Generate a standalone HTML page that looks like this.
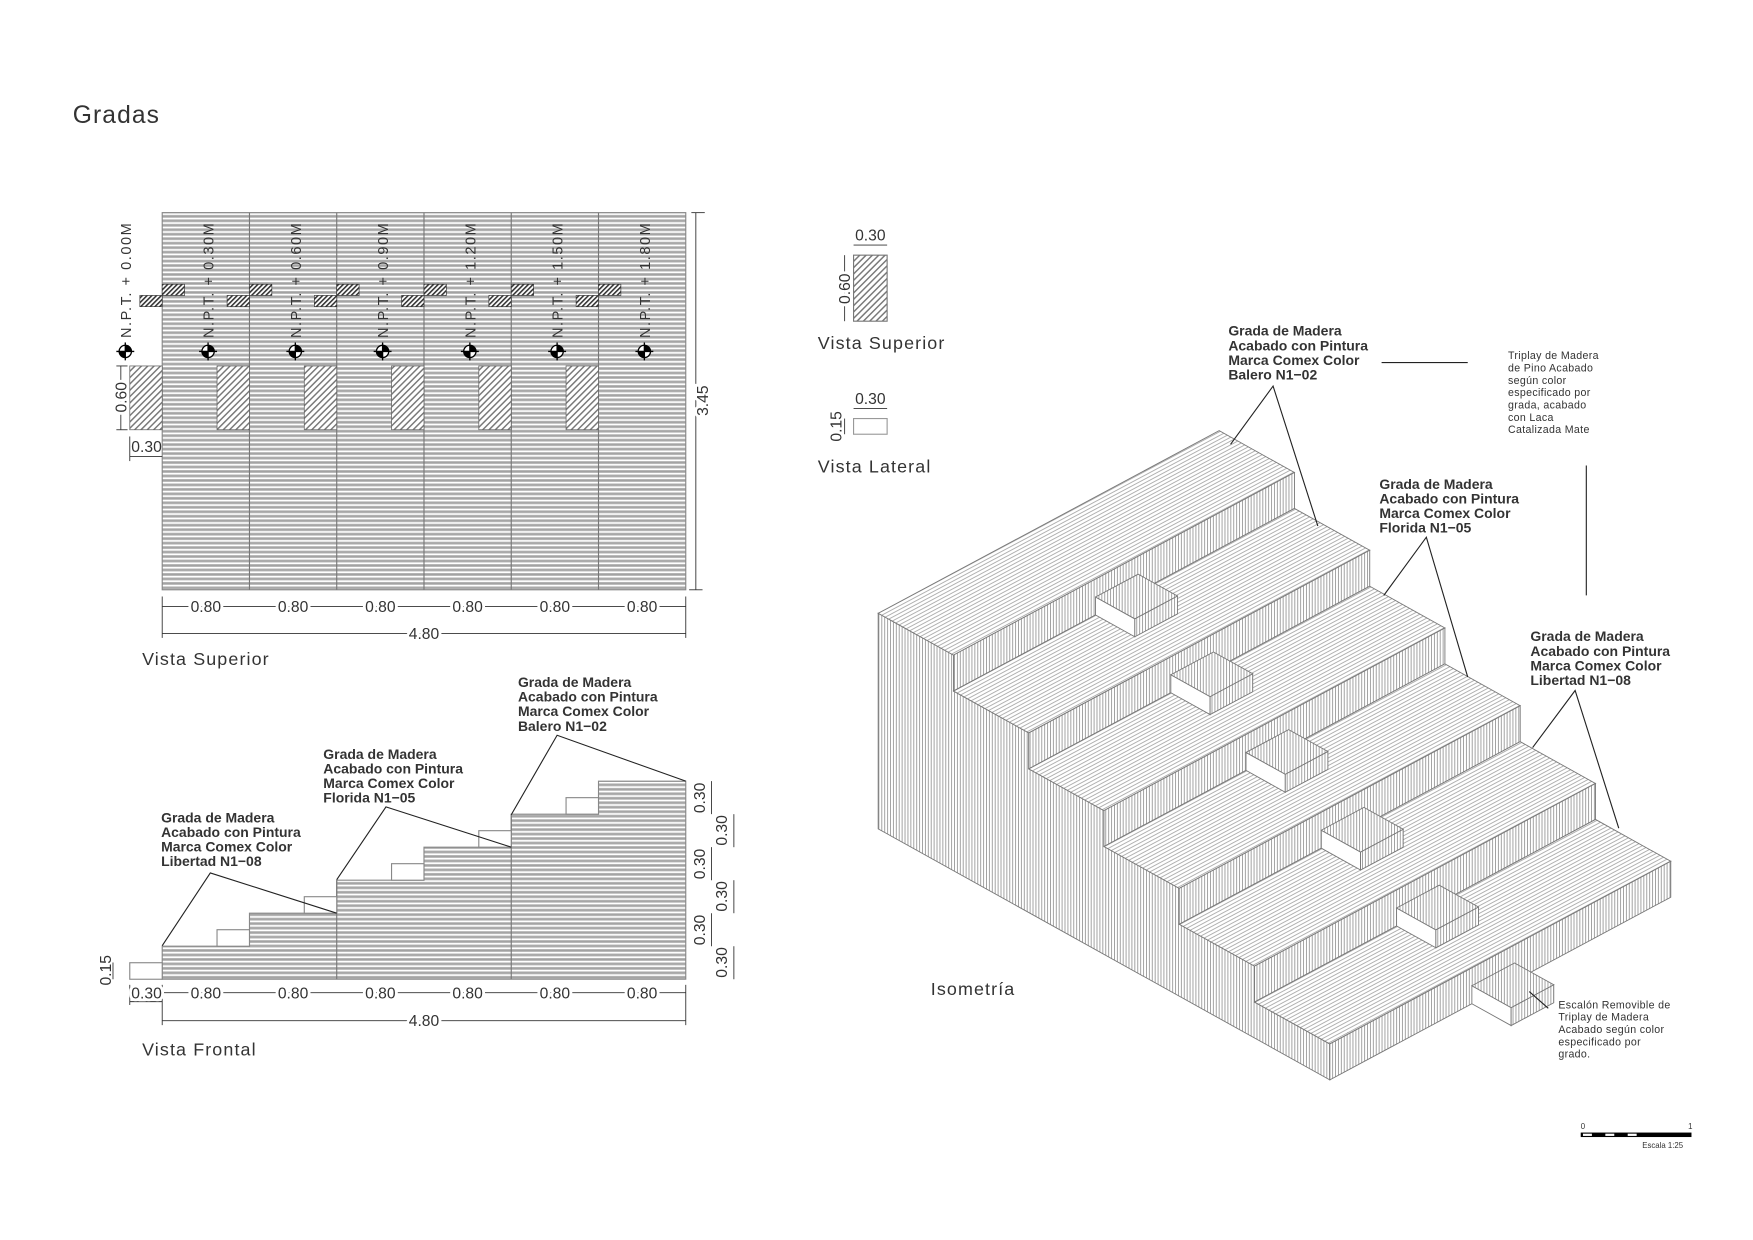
<!DOCTYPE html>
<html><head><meta charset="utf-8"><style>
html,body{margin:0;padding:0;background:#fff;}
svg{display:block}
text{font-family:"Liberation Sans",sans-serif;fill:#333;}
.dim{font-size:14px;}
.lbl{font-size:16px;letter-spacing:1px;}
.b{font-size:12.5px;font-weight:bold;fill:#111;}
.s{font-size:9.5px;fill:#333;letter-spacing:.3px}
.wb{paint-order:stroke;stroke:#fff;stroke-width:5px;}
</style></head><body>
<svg width="1753" height="1240" viewBox="0 0 1567 1108" preserveAspectRatio="none" xmlns="http://www.w3.org/2000/svg">
<defs>
<pattern id="hs" width="8" height="4" patternUnits="userSpaceOnUse">
<rect width="8" height="4" fill="#fff"/><rect y="0" width="8" height="2.6" fill="#b4b4b4"/><rect y="1" width="8" height=".6" fill="#999"/></pattern>
<pattern id="dg" width="4" height="4" patternUnits="userSpaceOnUse" patternTransform="rotate(45)">
<rect width="4" height="4" fill="#fff"/><rect width="1.3" height="4" fill="#777"/></pattern>
<pattern id="dgd" width="3" height="3" patternUnits="userSpaceOnUse" patternTransform="rotate(45)">
<rect width="3" height="3" fill="#fff"/><rect width="1.4" height="3" fill="#333"/></pattern>
<pattern id="vl" width="2.6" height="10" patternUnits="userSpaceOnUse">
<rect width="2.6" height="10" fill="#fff"/><rect width=".8" height="10" fill="#999"/></pattern>
<pattern id="tl" width="10" height="3" patternUnits="userSpaceOnUse" patternTransform="rotate(-28)">
<rect width="10" height="3" fill="#fff"/><rect width="10" height=".8" fill="#aaa"/></pattern>
<g id="box" stroke="#777" stroke-width=".8">
<polygon points="0,0 0,-16.05 35.1,3.45 35.1,19.5" fill="#fff"/>
<polygon points="35.1,19.5 73.2,-0.9 73.2,-16.95 35.1,3.45" fill="url(#vl)"/>
<polygon points="0,-16.05 38.1,-36.45 73.2,-16.95 35.1,3.45" fill="url(#vl)"/>
</g>
<g id="npt">
<circle r="5.5" fill="#fff" stroke="#000" stroke-width="1.2"/>
<path d="M0,0 L0,-5.5 A5.5,5.5 0 0 1 5.5,0 Z M0,0 L0,5.5 A5.5,5.5 0 0 1 -5.5,0 Z" fill="#000"/>
<line x1="-8" y1="0" x2="8" y2="0" stroke="#000" stroke-width="1.2"/>
<line x1="0" y1="-8" x2="0" y2="8" stroke="#000" stroke-width="1.2"/>
</g>
</defs>

<text x="65" y="110" style="font-size:22px;letter-spacing:1px" fill="#444">Gradas</text>

<!-- PLAN -->
<rect x="145" y="190" width="468" height="337" fill="url(#hs)" stroke="#888" stroke-width="1"/>
<g stroke="#777" stroke-width="1">
<line x1="223" y1="190" x2="223" y2="527"/><line x1="301" y1="190" x2="301" y2="527"/>
<line x1="379" y1="190" x2="379" y2="527"/><line x1="457" y1="190" x2="457" y2="527"/>
<line x1="535" y1="190" x2="535" y2="527"/>
</g>
<g stroke="#666" stroke-width=".7" fill="url(#dg)">
<rect x="116" y="327" width="29" height="57"/>
<rect x="194" y="327" width="29" height="57"/><rect x="272" y="327" width="29" height="57"/>
<rect x="350" y="327" width="29" height="57"/><rect x="428" y="327" width="29" height="57"/>
<rect x="506" y="327" width="29" height="57"/>
</g>
<g stroke="#333" stroke-width=".6" fill="url(#dgd)">
<rect x="125" y="264" width="20" height="10"/><rect x="145" y="254" width="20" height="10"/>
<rect x="203" y="264" width="20" height="10"/><rect x="223" y="254" width="20" height="10"/>
<rect x="281" y="264" width="20" height="10"/><rect x="301" y="254" width="20" height="10"/>
<rect x="359" y="264" width="20" height="10"/><rect x="379" y="254" width="20" height="10"/>
<rect x="437" y="264" width="20" height="10"/><rect x="457" y="254" width="20" height="10"/>
<rect x="515" y="264" width="20" height="10"/><rect x="535" y="254" width="20" height="10"/>
</g>
<g style="font-size:13px;letter-spacing:1.5px" fill="#222">
<text transform="translate(117,302) rotate(-90)" textLength="104">N.P.T. + 0.00M</text>
<text transform="translate(191,302) rotate(-90)" textLength="104">N.P.T. + 0.30M</text>
<text transform="translate(269,302) rotate(-90)" textLength="104">N.P.T. + 0.60M</text>
<text transform="translate(347,302) rotate(-90)" textLength="104">N.P.T. + 0.90M</text>
<text transform="translate(425,302) rotate(-90)" textLength="104">N.P.T. + 1.20M</text>
<text transform="translate(503,302) rotate(-90)" textLength="104">N.P.T. + 1.50M</text>
<text transform="translate(581,302) rotate(-90)" textLength="104">N.P.T. + 1.80M</text>
</g>
<use href="#npt" x="112" y="314"/><use href="#npt" x="186" y="314"/><use href="#npt" x="264" y="314"/>
<use href="#npt" x="342" y="314"/><use href="#npt" x="420" y="314"/><use href="#npt" x="498" y="314"/>
<use href="#npt" x="576" y="314"/>
<g stroke="#333" stroke-width=".8">
<line x1="622" y1="190" x2="622" y2="527"/><line x1="618" y1="190" x2="630" y2="190"/><line x1="616" y1="527" x2="628" y2="527"/>
<line x1="145" y1="542" x2="613" y2="542"/><line x1="145" y1="566" x2="613" y2="566"/>
<line x1="145" y1="533" x2="145" y2="570"/><line x1="613" y1="533" x2="613" y2="570"/>
<line x1="108" y1="327" x2="108" y2="384"/><line x1="104" y1="327" x2="114" y2="327"/><line x1="104" y1="384" x2="114" y2="384"/>
<line x1="116" y1="408" x2="145" y2="408"/><line x1="116" y1="390" x2="116" y2="412"/>
</g>
<g class="dim">
<text x="628" y="358" transform="rotate(-90 628 358)" text-anchor="middle" dy="5" class="wb">3.45</text>
<text x="108" y="355" transform="rotate(-90 108 355)" text-anchor="middle" dy="5" class="wb">0.60</text>
<text x="131" y="404" text-anchor="middle">0.30</text>
<text x="184" y="547" text-anchor="middle" class="wb">0.80</text><text x="262" y="547" text-anchor="middle" class="wb">0.80</text>
<text x="340" y="547" text-anchor="middle" class="wb">0.80</text><text x="418" y="547" text-anchor="middle" class="wb">0.80</text>
<text x="496" y="547" text-anchor="middle" class="wb">0.80</text><text x="574" y="547" text-anchor="middle" class="wb">0.80</text>
<text x="379" y="571" text-anchor="middle" class="wb">4.80</text>
</g>
<text x="127" y="594" class="lbl">Vista Superior</text>

<!-- FRONT -->
<polygon points="145,875 145,845.5 223,845.5 223,816 301,816 301,786.5 379,786.5 379,757 457,757 457,727.5 535,727.5 535,698 613,698 613,875" fill="url(#hs)" stroke="#888"/>
<g stroke="#777" stroke-width="1"><line x1="301" y1="786.5" x2="301" y2="875"/><line x1="457" y1="727.5" x2="457" y2="875"/></g>
<g fill="#fff" stroke="#888" stroke-width="1">
<rect x="194" y="830.75" width="29" height="14.75"/><rect x="272" y="801.25" width="29" height="14.75"/>
<rect x="350" y="771.75" width="29" height="14.75"/><rect x="428" y="742.25" width="29" height="14.75"/>
<rect x="506" y="712.75" width="29" height="14.75"/><rect x="116" y="860.25" width="29" height="14.75"/>
</g>
<g stroke="#222" stroke-width="1" fill="none">
<polyline points="145,845 188,780 301,816"/>
<polyline points="301,786 345,721 457,757"/>
<polyline points="457,728 498,657 613,698"/>
</g>
<g class="b">
<text x="144" y="735">Grada de Madera</text><text x="144" y="748">Acabado con Pintura</text><text x="144" y="761">Marca Comex Color</text><text x="144" y="774">Libertad N1−08</text>
<text x="289" y="678">Grada de Madera</text><text x="289" y="691">Acabado con Pintura</text><text x="289" y="704">Marca Comex Color</text><text x="289" y="717">Florida N1−05</text>
<text x="463" y="614">Grada de Madera</text><text x="463" y="627">Acabado con Pintura</text><text x="463" y="640">Marca Comex Color</text><text x="463" y="653">Balero N1−02</text>
</g>
<g stroke="#333" stroke-width=".8">
<line x1="636" y1="698" x2="636" y2="727.5"/><line x1="636" y1="757" x2="636" y2="786.5"/><line x1="636" y1="816" x2="636" y2="845.5"/>
<line x1="656" y1="727.5" x2="656" y2="757"/><line x1="656" y1="786.5" x2="656" y2="816"/><line x1="656" y1="845.5" x2="656" y2="875"/>
<line x1="145" y1="887" x2="613" y2="887"/><line x1="145" y1="912" x2="613" y2="912"/>
<line x1="116" y1="895" x2="145" y2="895"/>
<line x1="145" y1="880" x2="145" y2="916"/><line x1="613" y1="880" x2="613" y2="916"/><line x1="116" y1="880" x2="116" y2="898"/>
<line x1="101" y1="860" x2="101" y2="875"/>
</g>
<g class="dim">
<text transform="translate(630,713) rotate(-90)" text-anchor="middle">0.30</text>
<text transform="translate(630,772) rotate(-90)" text-anchor="middle">0.30</text>
<text transform="translate(630,831) rotate(-90)" text-anchor="middle">0.30</text>
<text transform="translate(650,742) rotate(-90)" text-anchor="middle">0.30</text>
<text transform="translate(650,801) rotate(-90)" text-anchor="middle">0.30</text>
<text transform="translate(650,860) rotate(-90)" text-anchor="middle">0.30</text>
<text transform="translate(99,867) rotate(-90)" text-anchor="middle">0.15</text>
<text x="131" y="892" text-anchor="middle" class="wb">0.30</text>
<text x="184" y="892" text-anchor="middle" class="wb">0.80</text><text x="262" y="892" text-anchor="middle" class="wb">0.80</text>
<text x="340" y="892" text-anchor="middle" class="wb">0.80</text><text x="418" y="892" text-anchor="middle" class="wb">0.80</text>
<text x="496" y="892" text-anchor="middle" class="wb">0.80</text><text x="574" y="892" text-anchor="middle" class="wb">0.80</text>
<text x="379" y="917" text-anchor="middle" class="wb">4.80</text>
</g>
<text x="127" y="943" class="lbl">Vista Frontal</text>

<!-- small views -->
<rect x="763" y="228" width="30" height="59" fill="url(#dg)" stroke="#777"/>
<rect x="763" y="374" width="30" height="14" fill="#fff" stroke="#999"/>
<g stroke="#333" stroke-width=".8">
<line x1="763" y1="219" x2="793" y2="219"/><line x1="755" y1="228" x2="755" y2="287"/>
<line x1="763" y1="365" x2="793" y2="365"/><line x1="755" y1="374" x2="755" y2="388"/>
</g>
<g class="dim">
<text x="778" y="215" text-anchor="middle">0.30</text>
<text x="778" y="361" text-anchor="middle">0.30</text>
<text transform="translate(760,258) rotate(-90)" text-anchor="middle" class="wb">0.60</text>
<text transform="translate(752,381) rotate(-90)" text-anchor="middle">0.15</text>
</g>
<text x="731" y="312" class="lbl">Vista Superior</text>
<text x="731" y="422" class="lbl">Vista Lateral</text>

<!-- ISOMETRIC -->
<g stroke="#777" stroke-width=".8">
<polygon points="785,740.6 785,548 852.3,585.4 852.3,617.5 919.6,654.9 919.6,687 986.8,724.3 986.8,756.4 1054.1,793.8 1054.1,825.9 1121.4,863.3 1121.4,895.4 1188.7,932.8 1188.7,964.9" fill="url(#vl)"/>
<polygon points="785,548 1089.8,384.8 1157.1,422.2 852.3,585.4" fill="url(#tl)"/>
<polygon points="852.3,585.4 1157.1,422.2 1157.1,454.3 852.3,617.5" fill="url(#vl)"/>
<polygon points="852.3,617.5 1157.1,454.3 1224.4,491.7 919.6,654.9" fill="url(#tl)"/>
<use href="#box" x="979.3" y="549.5"/>
<polygon points="919.6,654.9 1224.4,491.7 1224.4,523.8 919.6,687" fill="url(#vl)"/>
<polygon points="919.6,687 1224.4,523.8 1291.6,561.1 986.8,724.3" fill="url(#tl)"/>
<use href="#box" x="1046.6" y="619"/>
<polygon points="986.8,724.3 1291.6,561.1 1291.6,593.2 986.8,756.4" fill="url(#vl)"/>
<polygon points="986.8,756.4 1291.6,593.2 1358.9,630.6 1054.1,793.8" fill="url(#tl)"/>
<use href="#box" x="1113.8" y="688.4"/>
<polygon points="1054.1,793.8 1358.9,630.6 1358.9,662.7 1054.1,825.9" fill="url(#vl)"/>
<polygon points="1054.1,825.9 1358.9,662.7 1426.2,700.1 1121.4,863.3" fill="url(#tl)"/>
<use href="#box" x="1181.1" y="757.9"/>
<polygon points="1121.4,863.3 1426.2,700.1 1426.2,732.2 1121.4,895.4" fill="url(#vl)"/>
<polygon points="1121.4,895.4 1426.2,732.2 1493.5,769.6 1188.7,932.8" fill="url(#tl)"/>
<use href="#box" x="1248.4" y="827.4"/>
<polygon points="1188.7,932.8 1493.5,769.6 1493.5,801.7 1188.7,964.9" fill="url(#vl)"/>
<use href="#box" x="1315.7" y="896.9"/>
</g>
<g stroke="#222" stroke-width="1" fill="none">
<polyline points="1100,397 1138,345 1178,470"/>
<polyline points="1237,532 1275,480 1312,605"/>
<polyline points="1370,668 1408,617 1447,740"/>
<line x1="1235" y1="324" x2="1312" y2="324"/>
<line x1="1418" y1="416" x2="1418" y2="532"/>
<line x1="1367" y1="886" x2="1384" y2="901"/>
</g>
<g class="b">
<text x="1098" y="300">Grada de Madera</text><text x="1098" y="313">Acabado con Pintura</text><text x="1098" y="326">Marca Comex Color</text><text x="1098" y="339">Balero N1−02</text>
<text x="1233" y="437">Grada de Madera</text><text x="1233" y="450">Acabado con Pintura</text><text x="1233" y="463">Marca Comex Color</text><text x="1233" y="476">Florida N1−05</text>
<text x="1368" y="573">Grada de Madera</text><text x="1368" y="586">Acabado con Pintura</text><text x="1368" y="599">Marca Comex Color</text><text x="1368" y="612">Libertad N1−08</text>
</g>
<g class="s">
<text x="1348" y="321">Triplay de Madera</text><text x="1348" y="332">de Pino Acabado</text><text x="1348" y="343">según color</text>
<text x="1348" y="354">especificado por</text><text x="1348" y="365">grada, acabado</text><text x="1348" y="376">con Laca</text><text x="1348" y="387">Catalizada Mate</text>
<text x="1393" y="901">Escalón Removible de</text><text x="1393" y="912">Triplay de Madera</text><text x="1393" y="923">Acabado según color</text>
<text x="1393" y="934">especificado por</text><text x="1393" y="945">grado.</text>
</g>
<text x="832" y="889" class="lbl">Isometría</text>

<!-- scale bar -->
<rect x="1413" y="1012" width="99" height="4" fill="#000"/>
<rect x="1415" y="1013" width="8" height="2" fill="#fff"/><rect x="1435" y="1013" width="8" height="2" fill="#fff"/><rect x="1455" y="1013" width="8" height="2" fill="#fff"/>
<text x="1413" y="1009" style="font-size:7px">0</text><text x="1509" y="1009" style="font-size:7px">1</text>
<text x="1468" y="1026" style="font-size:7px">Escala 1:25</text>
</svg>
</body></html>
